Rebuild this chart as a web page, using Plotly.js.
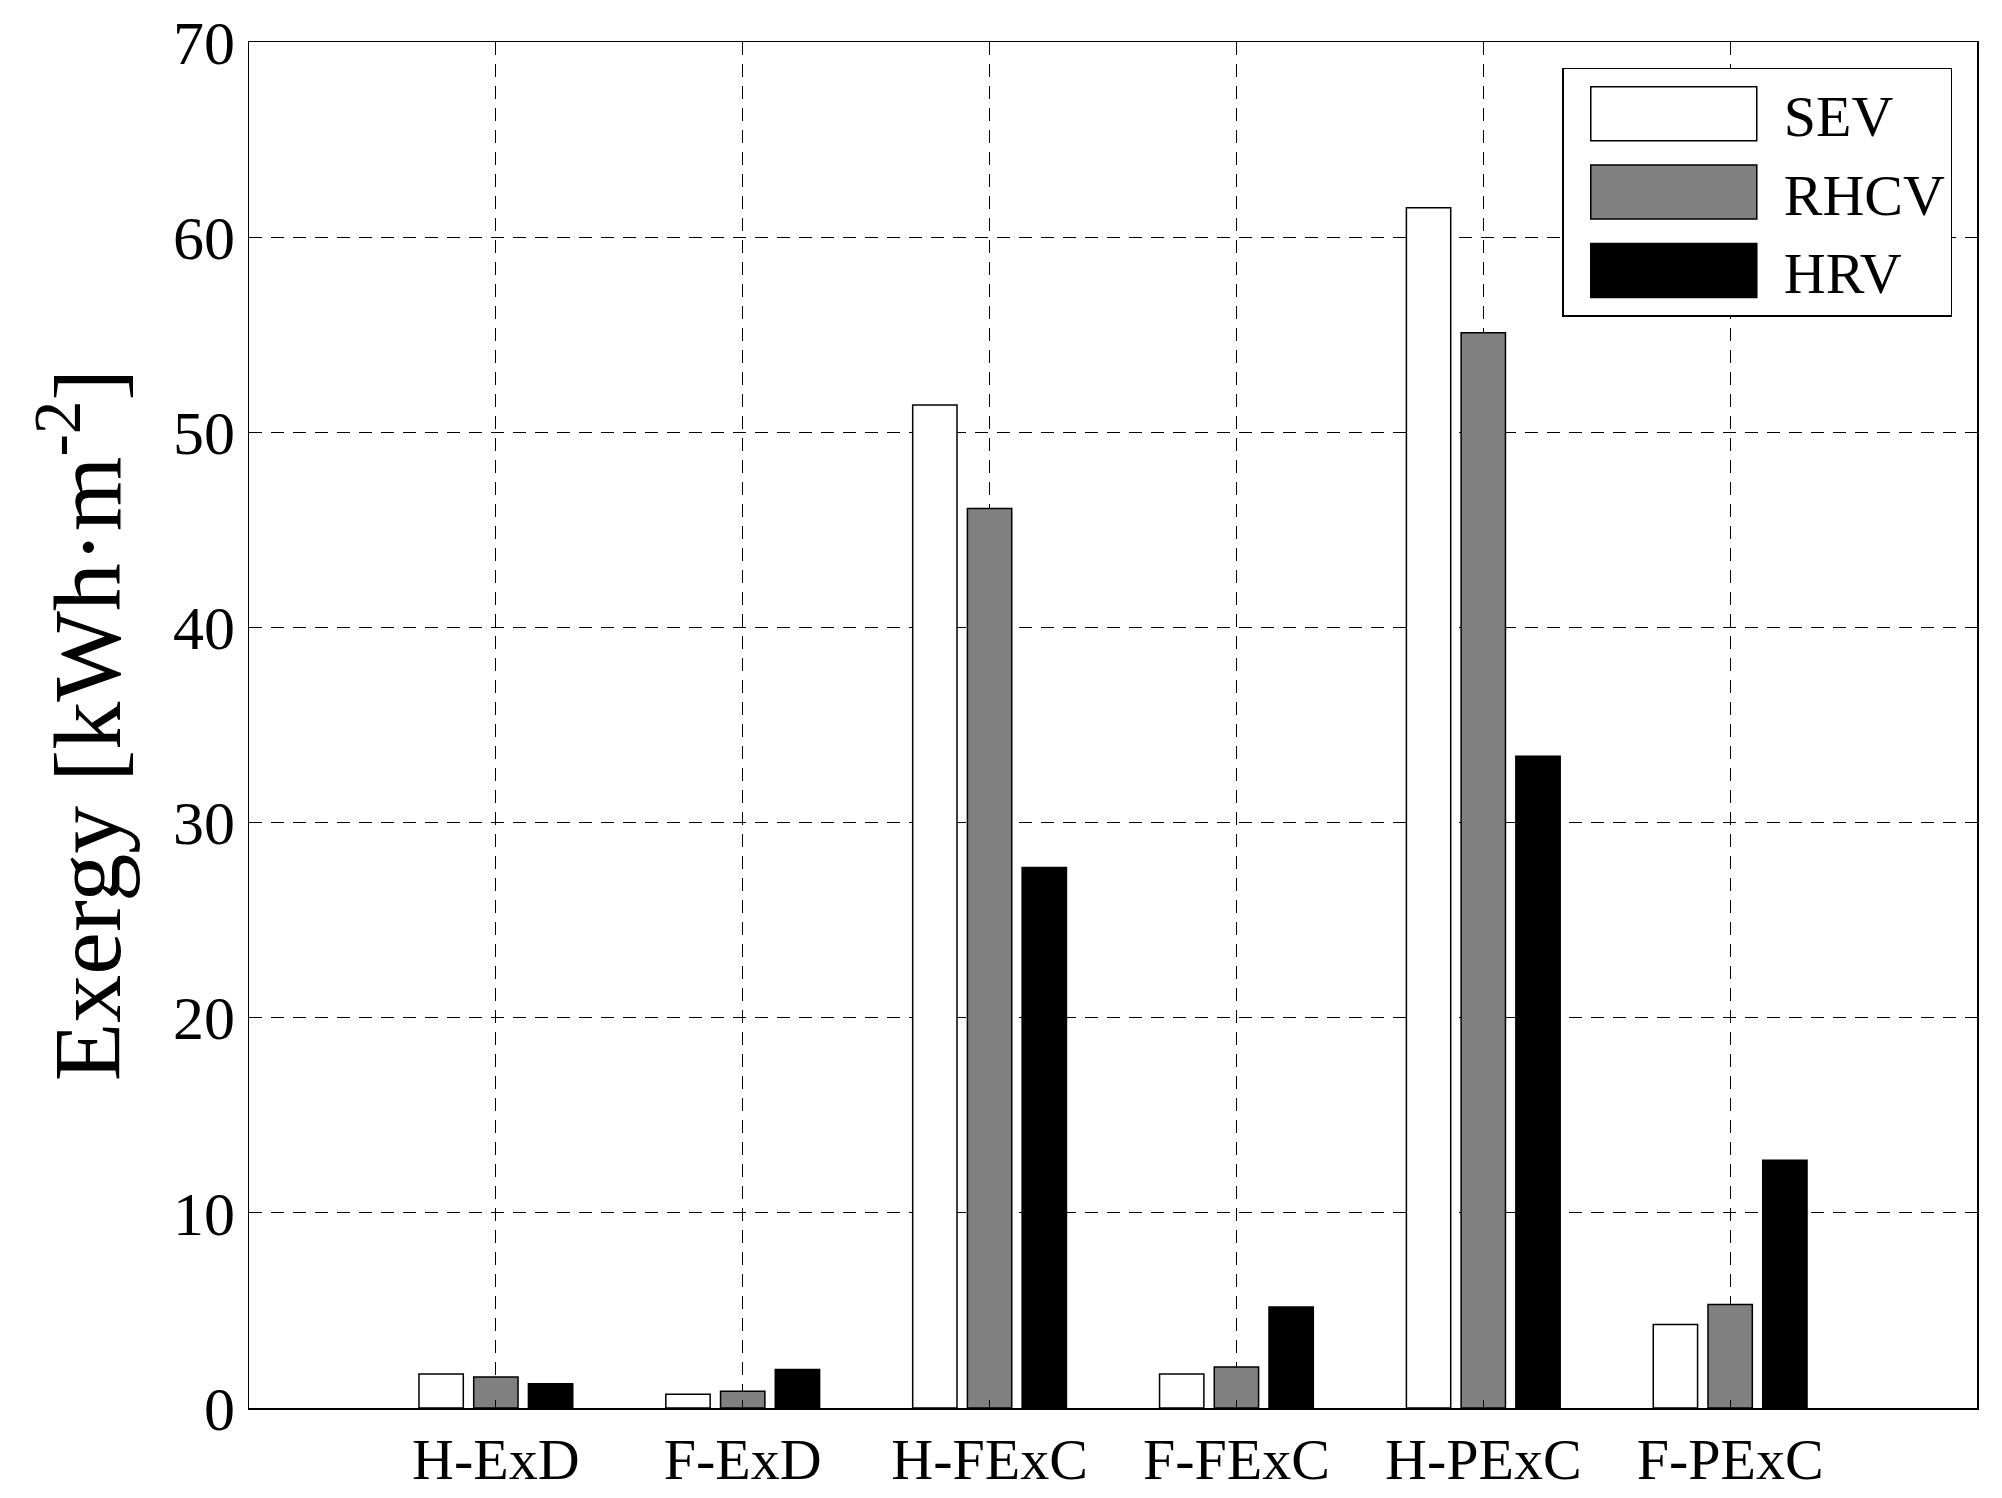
<!DOCTYPE html>
<html>
<head>
<meta charset="utf-8">
<script src="https://cdn.plot.ly/plotly-3.0.1.min.js"></script>
<style>
  html, body { margin: 0; padding: 0; background: #fff; }
  #chart { width: 2002px; height: 1498px; }
</style>
</head>
<body>
<div id="chart"></div>
<script>
var categories = ['H-ExD', 'F-ExD', 'H-FExC', 'F-FExC', 'H-PExC', 'F-PExC'];
var sevValues  = [1.74, 0.71, 51.4, 1.74, 61.5, 4.28];
var rhcvValues = [1.59, 0.86, 46.1, 2.10, 55.1, 5.31];
var hrvValues  = [1.24, 1.97, 27.7, 5.17, 33.4, 12.7];
var yTicks = [0, 10, 20, 30, 40, 50, 60, 70];

var serif = 'Liberation Serif, Times New Roman, serif';

function barTrace(name, values, fill) {
    return {
        type: 'bar',
        name: name,
        x: categories,
        y: values,
        marker: { color: fill, line: { color: '#000', width: 1.5 } },
        hoverinfo: 'x+y+name'
    };
}

var traces = [
    barTrace('SEV', sevValues, '#ffffff'),
    barTrace('RHCV', rhcvValues, '#808080'),
    barTrace('HRV', hrvValues, '#000000')
];

var layout = {
    width: 2002,
    height: 1498,
    paper_bgcolor: '#fff',
    plot_bgcolor: '#fff',
    margin: { l: 249, r: 25, t: 42, b: 90 },
    barmode: 'group',
    bargap: 0.335,
    bargroupgap: 0.19,
    font: { family: serif, color: '#000' },
    xaxis: {
        type: 'category',
        range: [-1, 6],
        showline: true, mirror: 'ticks', linecolor: '#000', linewidth: 1.5,
        ticks: 'inside', ticklen: 8, tickcolor: '#000',
        showgrid: true, gridcolor: '#000', gridwidth: 1.2, griddash: '13px,9px',
        tickfont: { family: serif, size: 58 },
        zeroline: false
    },
    yaxis: {
        range: [0, 70],
        tickvals: yTicks,
        showline: true, mirror: 'ticks', linecolor: '#000', linewidth: 1.5,
        ticks: 'inside', ticklen: 8, tickcolor: '#000',
        showgrid: true, gridcolor: '#000', gridwidth: 1.2, griddash: '13px,9px',
        tickfont: { family: serif, size: 62 },
        zeroline: false,
        title: {
            text: 'Exergy [kWh\u00b7m<sup>-2</sup>]',
            font: { family: serif, size: 96 },
            standoff: 20
        }
    },
    legend: {
        x: 0.76, y: 0.981, xanchor: 'left', yanchor: 'top',
        bgcolor: '#fff', bordercolor: '#000', borderwidth: 1.5,
        font: { family: serif, size: 58 },
        itemwidth: 210,
        traceorder: 'normal'
    },
    showlegend: true
};

Plotly.newPlot('chart', traces, layout, { displayModeBar: false, staticPlot: true }).then(function () {
    // widen the legend swatches to look like the filled boxes of the original
    document.querySelectorAll('#chart .legend .legendpoints path').forEach(function (p) {
        p.setAttribute('d', 'M-83,-27H83V27H-83Z');
    });
});
</script>
</body>
</html>
